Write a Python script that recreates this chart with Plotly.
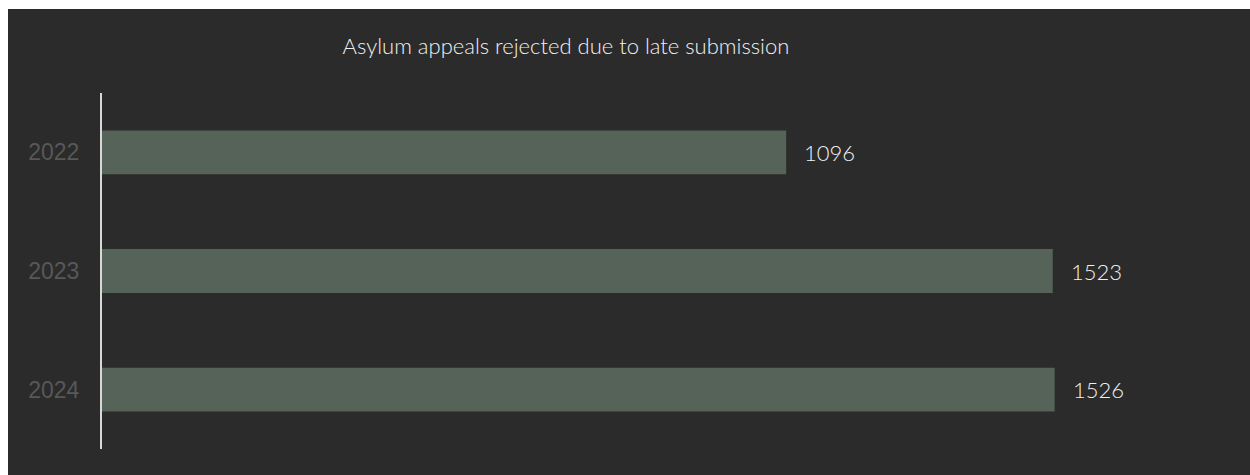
import plotly.graph_objects as go

# Data
years = ["2022", "2023", "2024"]
rejected = [1096, 1523, 1526]

title_text = "Asylum appeals rejected due to late submission"

BG = "#2b2b2b"
BAR = "#556358"
TEXT = "#f0f0f0"
TICK = "#585858"

W, H = 1250, 475
ML, MR, MT, MB = 102, 88, 93, 26
PW = W - ML - MR
PH = H - MT - MB
XMAX = 1698

fig = go.Figure()
fig.add_trace(go.Bar(
    x=rejected,
    y=years,
    orientation="h",
    marker=dict(color=BAR, line=dict(width=0)),
    hoverinfo="skip",
))

# value labels just past the end of each bar (category index for y)
for i, v in enumerate(rejected):
    fig.add_annotation(
        x=v, y=i, xref="x", yref="y",
        text=str(v), showarrow=False,
        xanchor="left", yanchor="middle", xshift=16,
        font=dict(family="Lato, sans-serif", size=22, color=TEXT, weight=300),
    )

# dark panel behind the whole chart
fig.add_shape(
    type="rect", xref="paper", yref="paper", layer="below",
    x0=(8 - ML) / PW, x1=(W - ML) / PW,
    y0=-MB / PH, y1=(H - MB - 9) / PH,
    fillcolor=BG, line=dict(width=0),
)

fig.update_layout(
    width=W, height=H,
    margin=dict(l=ML, r=MR, t=MT, b=MB, pad=0),
    paper_bgcolor="white",
    plot_bgcolor="rgba(0,0,0,0)",
    bargap=0.63,
    showlegend=False,
    title=dict(
        text=title_text,
        x=(566 - ML) / PW, xref="paper", xanchor="center",
        y=1 - 46 / H, yref="container", yanchor="middle",
        font=dict(family="Lato, sans-serif", size=22, color=TEXT, weight=300),
    ),
    xaxis=dict(range=[0, XMAX], visible=False, fixedrange=True),
    yaxis=dict(
        type="category",
        range=[2.5, -0.5],
        showline=True, linecolor="#d8d8d8", linewidth=2,
        showgrid=False, zeroline=False,
        ticks="outside", ticklen=16, tickcolor="rgba(0,0,0,0)",
        tickfont=dict(family="Liberation Sans, Arial, sans-serif", size=23, color=TICK),
    ),
)

fig.write_html("out.html")
